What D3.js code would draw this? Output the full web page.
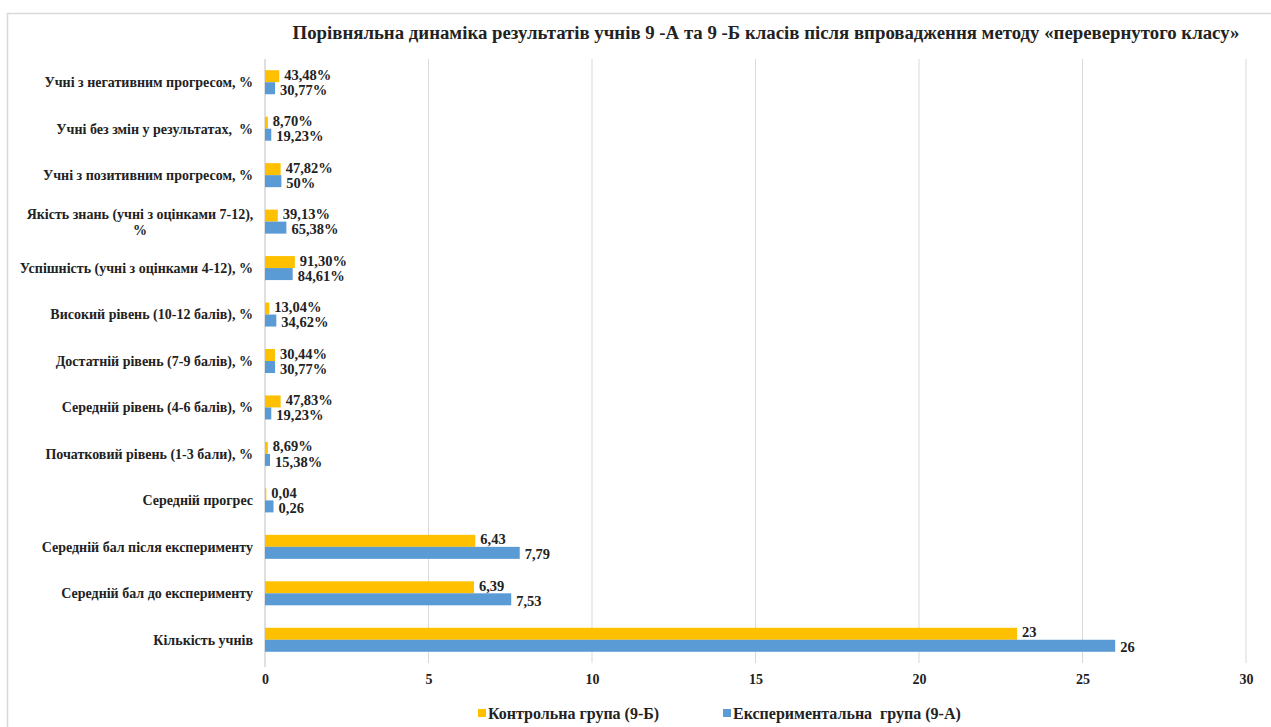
<!DOCTYPE html>
<html><head><meta charset="utf-8">
<script src="https://cdn.jsdelivr.net/npm/d3@7"></script>
<style>
html,body{margin:0;padding:0;background:#fff;}
svg text{font-family:"Liberation Serif","DejaVu Serif","Times New Roman",serif;font-weight:bold;fill:#222;}
</style></head>
<body>
<svg id="chart" width="1271" height="727"></svg>
<script>
const title = "Порівняльна динаміка результатів учнів 9 -А та 9 -Б класів після впровадження методу «перевернутого класу»";
const categories = [
  "Учні з негативним прогресом, %",
  "Учні без змін у результатах,  %",
  "Учні з позитивним прогресом, %",
  "Якість знань (учні з оцінками 7-12), %",
  "Успішність (учні з оцінками 4-12), %",
  "Високий рівень (10-12 балів), %",
  "Достатній рівень (7-9 балів), %",
  "Середній рівень (4-6 балів), %",
  "Початковий рівень (1-3 бали), %",
  "Середній прогрес",
  "Середній бал після експерименту",
  "Середній бал до експерименту",
  "Кількість учнів"
];
const seriesNames = ["Контрольна група (9-Б)", "Експериментальна  група (9-А)"];
const controlValues = [0.4348, 0.087, 0.4782, 0.3913, 0.913, 0.1304, 0.3044, 0.4783, 0.0869, 0.04, 6.43, 6.39, 23];
const experimentalValues = [0.3077, 0.1923, 0.5, 0.6538, 0.8461, 0.3462, 0.3077, 0.1923, 0.1538, 0.26, 7.79, 7.53, 26];
const controlLabels = ["43,48%", "8,70%", "47,82%", "39,13%", "91,30%", "13,04%", "30,44%", "47,83%", "8,69%", "0,04", "6,43", "6,39", "23"];
const experimentalLabels = ["30,77%", "19,23%", "50%", "65,38%", "84,61%", "34,62%", "30,77%", "19,23%", "15,38%", "0,26", "7,79", "7,53", "26"];
const xTicks = [0, 5, 10, 15, 20, 25, 30];
const colors = ["#FFC000", "#5B9BD5"];
const FONT = '"Liberation Serif", "DejaVu Serif", serif';

const svg = d3.select("#chart");
svg.append("rect").attr("x", 7.5).attr("y", 13.5).attr("width", 1275).attr("height", 720)
  .attr("fill", "#fff").attr("stroke", "#d9d9d9").attr("stroke-width", 1.5);

const pLeft = 265, pRight = 1246, pTop = 59, pBottom = 663;
const x = d3.scaleLinear().domain([0, 30]).range([pLeft, pRight]);
const y = d3.scaleBand().domain(categories).range([pTop, pBottom]).paddingInner(0.483).paddingOuter(0.2415);
const ySub = d3.scaleBand().domain([0, 1]).range([0, y.bandwidth()]);

function txt(sel, size) {
  return sel.attr("font-family", FONT).attr("font-weight", "bold").attr("font-size", size).attr("fill", "#222");
}

// gridlines
svg.append("g").selectAll("line").data(xTicks.slice(1)).join("line")
  .attr("x1", d => x(d)).attr("x2", d => x(d)).attr("y1", pTop).attr("y2", pBottom)
  .attr("stroke", "#d9d9d9").attr("stroke-width", 1);
// axis
const xAxis = d3.axisBottom(x).tickValues(xTicks).tickSize(0).tickPadding(11).tickFormat(d3.format("d"));
const gx = svg.append("g").attr("transform", `translate(0,${pBottom})`).call(xAxis);
gx.select(".domain").remove();
gx.attr("font-family", null).attr("font-size", null);
txt(gx.selectAll("text"), 14);
svg.append("line").attr("x1", pLeft).attr("x2", pLeft).attr("y1", pTop).attr("y2", pBottom + 4)
  .attr("stroke", "#bfbfbf").attr("stroke-width", 1);

const rows = categories.map((c, i) => ({c, vals: [controlValues[i], experimentalValues[i]], labs: [controlLabels[i], experimentalLabels[i]]}));

const g = svg.append("g");
rows.forEach(r => {
  [0, 1].forEach(s => {
    g.append("rect").attr("x", x(0)).attr("y", y(r.c) + ySub(s))
      .attr("width", x(r.vals[s]) - x(0)).attr("height", ySub.bandwidth())
      .attr("fill", colors[s]);
    txt(g.append("text"), 14.5).attr("x", x(r.vals[s]) + 5)
      .attr("y", y(r.c) + ySub(s) + ySub.bandwidth() / 2 + (s === 0 ? -1.5 : 1.5))
      .attr("dy", "0.35em").text(r.labs[s]);
  });
});

// category labels
rows.forEach(r => {
  const cy = y(r.c) + y.bandwidth() / 2;
  if (r.c.startsWith("Якість")) {
    const t = txt(svg.append("text"), 14).attr("text-anchor", "middle");
    t.append("tspan").attr("x", 140).attr("y", cy - 8).attr("dy", "0.35em").text("Якість знань (учні з оцінками 7-12),");
    t.append("tspan").attr("x", 140).attr("y", cy + 8).attr("dy", "0.35em").text("%");
  } else {
    txt(svg.append("text"), 14).attr("x", 253).attr("y", cy).attr("dy", "0.35em")
      .attr("text-anchor", "end").attr("xml:space", "preserve").style("white-space", "pre").text(r.c);
  }
});

// title
const tt = txt(svg.append("text"), 16).attr("x", 766).attr("y", 39).attr("text-anchor", "middle").text(title);
const tw = tt.node().getComputedTextLength();
if (tw > 0) tt.attr("font-size", 16 * 948 / tw);

// legend
const legend = [{x: 478, name: seriesNames[0], color: colors[0]}, {x: 723, name: seriesNames[1], color: colors[1]}];
legend.forEach(l => {
  svg.append("rect").attr("x", l.x).attr("y", 709).attr("width", 8).attr("height", 8).attr("fill", l.color);
  txt(svg.append("text"), 16).attr("x", l.x + 10).attr("y", 713).attr("dy", "0.35em")
    .attr("xml:space", "preserve").style("white-space", "pre").text(l.name);
});
</script>
</body></html>
